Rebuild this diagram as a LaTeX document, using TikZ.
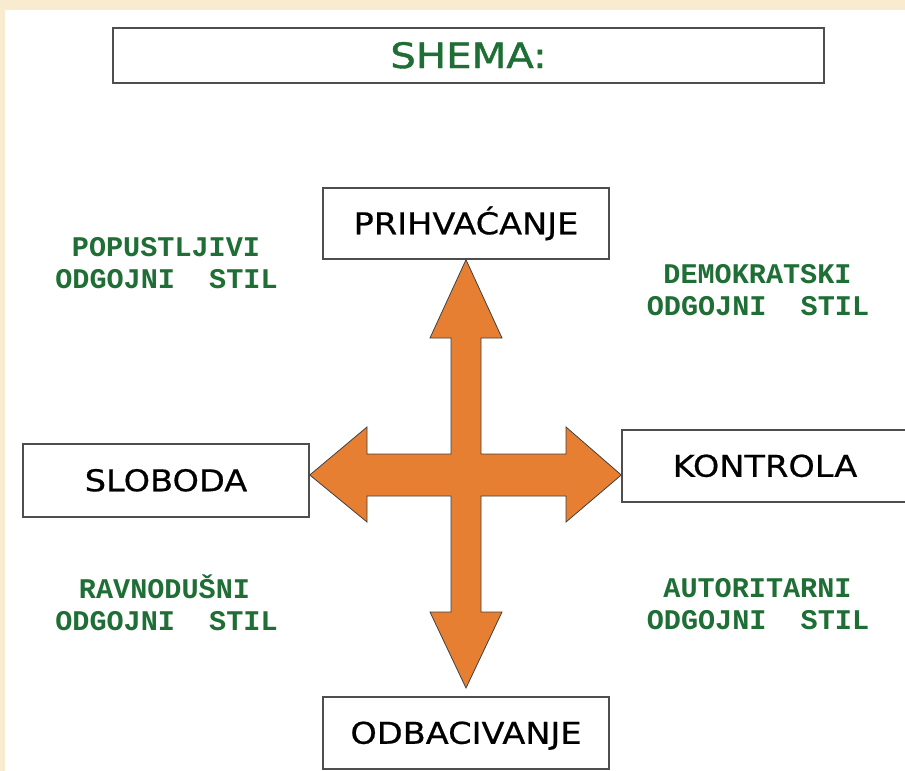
\documentclass[tikz,border=0pt]{standalone}
\usepackage{fontspec}
\newfontfamily\boxfont[FakeStretch=1.12,FakeBold=0.6]{DejaVu Sans}
\newfontfamily\titlefont[FakeStretch=1.15,FakeBold=1.2]{DejaVu Sans}
\newfontfamily\monofont{Liberation Mono}
\definecolor{bgbeige}{HTML}{F8EBD0}
\definecolor{lblgreen}{HTML}{1F6E35}
\definecolor{arroworange}{HTML}{E77F32}
\definecolor{boxgray}{HTML}{4E4E4E}
\tikzset{
  labelbox/.style={draw=boxgray, line width=1.5pt, fill=white, minimum width=286pt, minimum height=72pt, inner sep=0pt, font=\boxfont\fontsize{30}{30}\selectfont, text height=21.5pt, text depth=0pt},
  stylelbl/.style={anchor=base, text=lblgreen, font=\monofont\bfseries\fontsize{28.5}{32}\selectfont, inner sep=0pt}
}
\begin{document}
\begin{tikzpicture}[x=1pt,y=-1pt]
\useasboundingbox (0,0) rectangle (905,771);
\fill[bgbeige] (0,0) rectangle (905,771);
\fill[white] (5,10) rectangle (910,776);
% title
\node[labelbox, minimum width=711pt, minimum height=55pt, text=lblgreen, font=\titlefont\fontsize{35}{35}\selectfont, text height=25pt] (title) at (468.5,55.5) {SHEMA:};
% boxes
\node[labelbox, minimum height=71pt] (P) at (466,223.5) {PRIHVAĆANJE};
\node[labelbox] (O) at (466,733) {ODBACIVANJE};
\node[labelbox, minimum height=73pt] (S) at (166,480.5) {SLOBODA};
\node[labelbox] (K) at (765,466) {KONTROLA};
% cross arrow
\coordinate (c) at (466,475);
\filldraw[fill=arroworange, draw=black!75, line width=0.8pt, line join=miter]
  (P.south) -- (502,338) -- (481,338) -- (481,454) -- (566,454) -- (566,427)
  -- (K.west |- c) -- (566,522) -- (566,496) -- (481,496) -- (481,612) -- (502,612)
  -- (466,688) -- (430,612) -- (451,612) -- (451,496) -- (367,496) -- (367,522)
  -- (S.east |- c) -- (367,427) -- (367,454) -- (451,454) -- (451,338) -- (430,338) -- cycle;
% style labels
\node[stylelbl] (pop1) at (166,256) {POPUSTLJIVI};
\node[stylelbl] (pop2) at (166.5,288) {ODGOJNI\ \ STIL};
\node[stylelbl] (dem1) at (757.5,283) {DEMOKRATSKI};
\node[stylelbl] (dem2) at (758,315) {ODGOJNI\ \ STIL};
\node[stylelbl] (rav1) at (164.5,598) {RAVNODUŠNI};
\node[stylelbl] (rav2) at (166.5,630) {ODGOJNI\ \ STIL};
\node[stylelbl] (aut1) at (757.5,597) {AUTORITARNI};
\node[stylelbl] (aut2) at (758,629) {ODGOJNI\ \ STIL};
\end{tikzpicture}
\end{document}
